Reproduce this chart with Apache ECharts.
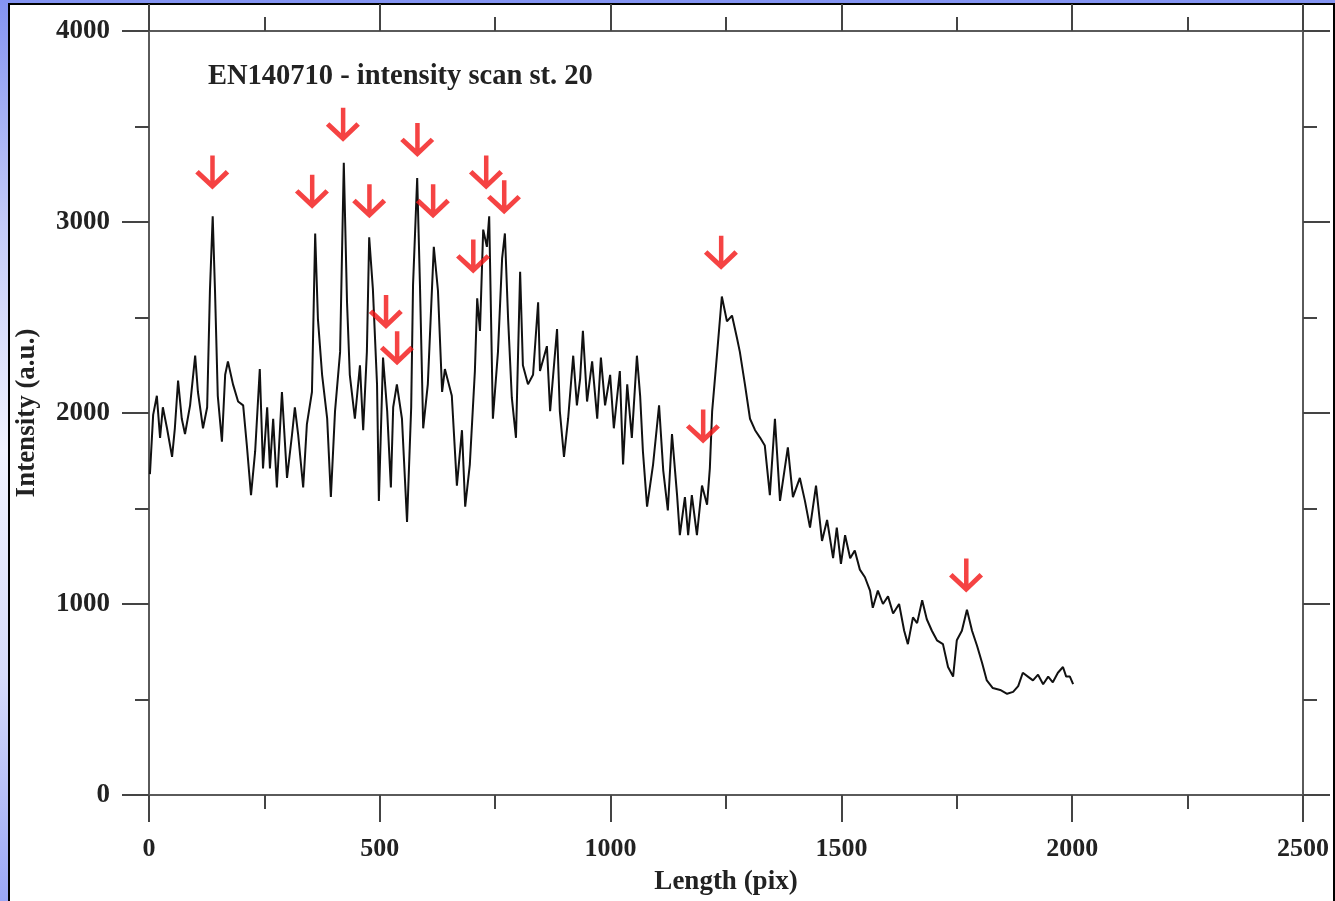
<!DOCTYPE html>
<html>
<head>
<meta charset="utf-8">
<script src="https://cdn.jsdelivr.net/npm/echarts@6/dist/echarts.min.js"></script>
<style>
  html, body { margin: 0; padding: 0; width: 1335px; height: 901px; overflow: hidden; }
  body { background: linear-gradient(180deg, #8494f2 0%, #c4cbf8 25%, #f0f2fe 50%, #d6dbfa 75%, #9aa6f6 100%); position: relative; }
  #frame { position: absolute; left: 8px; top: 3px; width: 1323px; height: 900px; background: #fff;
           border-left: 2px solid #000; border-top: 2px solid #000; border-right: 2px solid #000; }
  #chart { position: absolute; left: 0; top: 0; width: 1335px; height: 901px; }
</style>
</head>
<body>
<div id="frame"></div>
<div id="chart"></div>
<script>
// ---- data ----
const chartTitle = 'EN140710 - intensity scan st. 20';
const xAxisName = 'Length (pix)';
const yAxisName = 'Intensity (a.u.)';
const xTicks = [0, 500, 1000, 1500, 2000, 2500];
const yTicks = [0, 1000, 2000, 3000, 4000];

const scanX = [2,9,17,24,30,39,50,56,63,71,78,89,100,106,117,126,132,138,143,149,158,165,171,182,193,204,212,221,230,240,247,256,262,269,277,288,299,310,316,323,334,342,353,360,366,375,386,394,403,414,422,429,435,446,457,464,472,477,485,494,498,507,516,524,529,537,548,559,568,572,581,587,594,604,617,626,635,641,656,667,678,685,695,706,711,717,724,732,737,745,756,765,771,778,786,795,804,810,821,832,843,847,862,869,884,890,899,908,919,927,934,940,949,960,971,979,988,999,1007,1020,1027,1036,1046,1057,1064,1070,1079,1092,1105,1114,1124,1133,1144,1150,1161,1168,1176,1187,1198,1209,1215,1220,1231,1241,1252,1263,1274,1280,1291,1302,1313,1324,1334,1345,1356,1367,1384,1395,1410,1421,1432,1445,1458,1469,1482,1490,1499,1508,1519,1529,1540,1551,1562,1568,1579,1590,1601,1612,1625,1636,1644,1655,1664,1675,1685,1696,1707,1720,1731,1742,1750,1761,1772,1783,1794,1805,1815,1828,1844,1859,1872,1883,1893,1904,1915,1926,1937,1948,1958,1969,1980,1987,1995,2002];
const scanY = [1680,1990,2090,1870,2030,1920,1770,1920,2170,1970,1890,2040,2300,2110,1920,2030,2640,3030,2640,2090,1850,2200,2270,2150,2060,2040,1830,1570,1800,2230,1710,2030,1710,1970,1610,2110,1660,1890,2030,1890,1610,1940,2110,2940,2490,2200,1970,1560,2010,2320,3310,2580,2200,1970,2250,1910,2320,2920,2650,2150,1540,2290,2010,1610,2030,2150,1970,1430,2030,2670,3230,2670,1920,2150,2870,2640,2110,2230,2090,1620,1910,1510,1730,2220,2600,2430,2960,2870,3030,1970,2320,2810,2940,2490,2080,1870,2740,2250,2150,2200,2580,2220,2350,2010,2440,2010,1770,1970,2300,2040,2180,2430,2060,2270,1970,2290,2040,2200,1920,2220,1730,2150,1870,2300,2090,1800,1510,1730,2040,1700,1490,1890,1570,1360,1560,1360,1570,1360,1620,1520,1710,2010,2320,2610,2480,2510,2390,2320,2150,1970,1910,1870,1830,1570,1970,1540,1820,1560,1660,1540,1400,1620,1330,1440,1240,1400,1210,1360,1240,1280,1180,1140,1070,980,1070,1000,1040,950,1000,860,790,930,900,1020,920,860,810,790,670,620,810,860,970,860,780,690,600,560,550,530,540,570,640,620,600,630,580,620,590,640,670,620,620,580];

// red arrows: tip positions in data units
const arrowX = [137, 353, 420, 477, 581, 615, 513, 537, 702, 730, 769, 1239, 1200, 1770];
const arrowY = [3170, 3070, 3420, 3020, 3340, 3020, 2440, 2250, 2730, 3170, 3040, 2750, 1840, 1060];

// ---- chart ----
const FONT = '"Liberation Serif", "DejaVu Serif", serif';
const AX = '#5a5a5a';
const scanData = scanX.map((x, i) => [x, scanY[i]]);
const arrowData = arrowX.map((x, i) => [x, arrowY[i]]);
const ARROW = 'path://M15,0 L19.5,0 L19.5,26 L30.5,15 L34,18.5 L17.2,35 L0,18.5 L3.5,15 L15,26 Z';

function xAxisCfg(pos, showLabel) {
  return {
    type: 'value', position: pos,
    min: xTicks[0], max: xTicks[xTicks.length - 1], interval: xTicks[1] - xTicks[0],
    axisLine: { show: true, onZero: false, lineStyle: { color: AX, width: 2 } },
    axisTick: { show: true, inside: false, length: 27, lineStyle: { color: '#444', width: 2 } },
    minorTick: { show: true, splitNumber: 2, length: 14, lineStyle: { color: '#444', width: 2 } },
    splitLine: { show: false },
    axisLabel: showLabel ? { show: true, margin: 41, fontFamily: FONT, fontWeight: 'bold', fontSize: 26,
                             color: '#222', formatter: v => String(v) } : { show: false },
    name: showLabel ? xAxisName : '',
    nameLocation: 'middle', nameGap: 74,
    nameTextStyle: { fontFamily: FONT, fontWeight: 'bold', fontSize: 27, color: '#222' }
  };
}
function yAxisCfg(pos, showLabel) {
  return {
    type: 'value', position: pos,
    min: yTicks[0], max: yTicks[yTicks.length - 1], interval: yTicks[1] - yTicks[0],
    axisLine: { show: true, onZero: false, lineStyle: { color: AX, width: 2 } },
    axisTick: { show: true, inside: false, length: 27, lineStyle: { color: '#444', width: 2 } },
    minorTick: { show: true, splitNumber: 2, length: 14, lineStyle: { color: '#444', width: 2 } },
    splitLine: { show: false },
    axisLabel: showLabel ? { show: true, margin: 39, fontFamily: FONT, fontWeight: 'bold', fontSize: 27,
                             color: '#222', formatter: v => String(v) } : { show: false },
    name: showLabel ? yAxisName : '',
    nameLocation: 'middle', nameGap: 108, nameRotate: 90,
    nameTextStyle: { fontFamily: FONT, fontWeight: 'bold', fontSize: 27, color: '#222' }
  };
}

const chart = echarts.init(document.getElementById('chart'), null, { renderer: 'canvas', width: 1335, height: 901 });
chart.setOption({
  backgroundColor: 'transparent',
  animation: false,
  title: {
    text: chartTitle, left: 203, top: 57,
    textStyle: { fontFamily: FONT, fontWeight: 'bold', fontSize: 28.5, color: '#222' }
  },
  grid: { left: 149, right: 32, top: 31, bottom: 102, containLabel: false },
  xAxis: [xAxisCfg('bottom', true), xAxisCfg('top', false)],
  yAxis: [yAxisCfg('left', true), yAxisCfg('right', false)],
  series: [
    {
      type: 'line', data: scanData, xAxisIndex: 0, yAxisIndex: 0,
      showSymbol: false, symbol: 'none',
      lineStyle: { color: '#111', width: 2 }, z: 3
    },
    {
      type: 'scatter', data: arrowData, xAxisIndex: 0, yAxisIndex: 0,
      symbol: ARROW, symbolSize: [34, 34], symbolOffset: [0, -17],
      itemStyle: { color: '#f21414' }, z: 4
    }
  ]
});
</script>
</body>
</html>
